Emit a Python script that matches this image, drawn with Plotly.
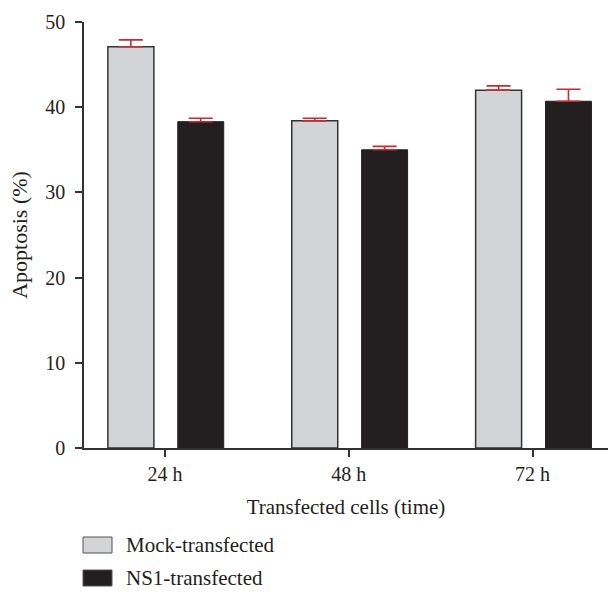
import plotly.graph_objects as go

categories = ["24 h", "48 h", "72 h"]
mock_values = [47.1, 38.4, 42.0]
mock_err = [0.8, 0.3, 0.5]
ns1_values = [38.3, 35.0, 40.7]
ns1_err = [0.4, 0.4, 1.4]
y_ticks = [0, 10, 20, 30, 40, 50]
series_names = ["Mock-transfected", "NS1-transfected"]
series_fill = ["#d3d4d6", "#231f20"]
series_line = ["#333333", "#231f20"]

FONT = "Liberation Serif"
RED = "#c42b33"
TXT = "#231f20"

W, H = 608, 593
ML, MR, MT, MB = 84, 0, 22, 145
plot_h = H - MT - MB
plot_w = W - ML - MR

fig = go.Figure()
fig.add_trace(go.Bar(
    x=categories, y=mock_values, name=series_names[0],
    width=0.25, offset=-0.31,
    marker=dict(color=series_fill[0], line=dict(color=series_line[0], width=1.5)),
    error_y=dict(type="data", array=mock_err, arrayminus=[0]*3, symmetric=False,
                 color=RED, thickness=1.6, width=12),
))
fig.add_trace(go.Bar(
    x=categories, y=ns1_values, name=series_names[1],
    width=0.25, offset=0.07,
    marker=dict(color=series_fill[1], line=dict(color=series_line[1], width=1)),
    error_y=dict(type="data", array=ns1_err, arrayminus=[0]*3, symmetric=False,
                 color=RED, thickness=1.6, width=12),
))

fig.update_layout(
    width=W, height=H,
    margin=dict(l=ML, r=MR, t=MT, b=MB),
    paper_bgcolor="white", plot_bgcolor="white",
    font=dict(family=FONT, size=20, color=TXT),
    showlegend=False,
)

# custom legend with large swatches like the reference
leg_y = [545, 578]
shapes = []
for i, name in enumerate(series_names):
    y_paper = (H - MB - leg_y[i]) / plot_h
    shapes.append(dict(type="rect", xref="paper", yref="paper",
                       x0=(83 - ML) / plot_w, x1=(112 - ML) / plot_w,
                       y0=y_paper - 8 / plot_h, y1=y_paper + 8 / plot_h,
                       fillcolor=series_fill[i], line=dict(color="#555555", width=1)))
    fig.add_annotation(xref="paper", yref="paper", x=(124 - ML) / plot_w, y=y_paper,
                       xanchor="left", yanchor="middle", text=name, showarrow=False,
                       font=dict(family=FONT, size=21, color=TXT))
fig.update_layout(shapes=shapes)

fig.update_xaxes(
    range=[-0.44, 2.41], showline=True, linecolor="#333333", linewidth=1.5,
    ticks="outside", ticklen=7, tickcolor="#333333", tickwidth=1.5,
    title=dict(text="Transfected cells (time)", standoff=16,
               font=dict(family=FONT, size=21)),
    tickfont=dict(family=FONT, size=20),
)
fig.update_yaxes(
    range=[0, 50], tickvals=y_ticks, showline=True, linecolor="#333333", linewidth=1.5,
    ticks="outside", ticklen=7, tickcolor="#333333", tickwidth=1.5,
    showgrid=False, zeroline=False, ticklabelstandoff=6,
    title=dict(text="Apoptosis (%)", standoff=12, font=dict(family=FONT, size=22)),
    tickfont=dict(family=FONT, size=20),
)

fig.write_html("out.html", config={"displayModeBar": False},
               post_script="document.body.style.margin='0';")
